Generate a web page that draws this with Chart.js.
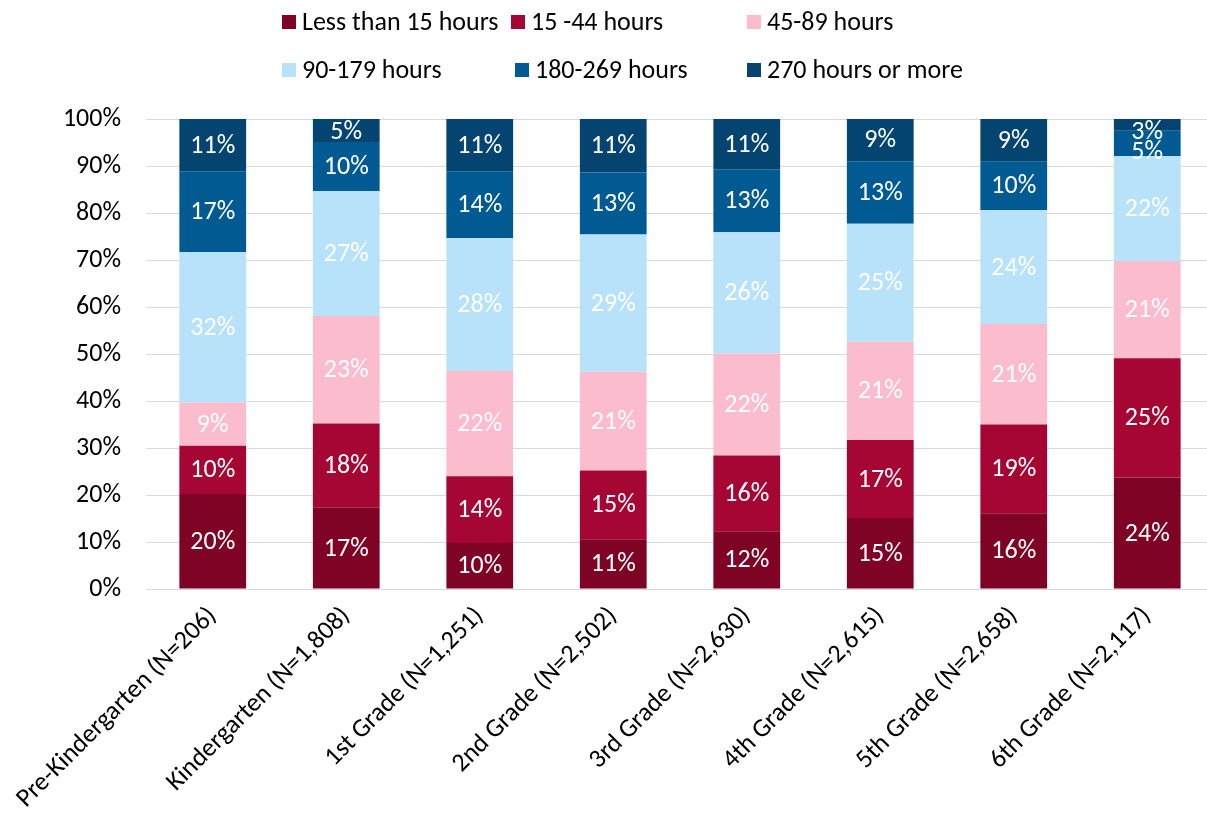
<!DOCTYPE html>
<html>
<head>
<meta charset="utf-8">
<script src="https://cdn.jsdelivr.net/npm/chart.js@4.4.1/dist/chart.umd.min.js"></script>
<style>
  html, body { margin: 0; padding: 0; background: #fff; overflow: hidden; }
  #wrap { width: 1207px; height: 818px; overflow: hidden; }
</style>
</head>
<body>
<div id="wrap"><canvas id="chart" width="1214" height="818"></canvas></div>
<script>
// categories (x axis)
const grades = [
  'Pre-Kindergarten (N=206)',
  'Kindergarten (N=1,808)',
  '1st Grade (N=1,251)',
  '2nd Grade (N=2,502)',
  '3rd Grade (N=2,630)',
  '4th Grade (N=2,615)',
  '5th Grade (N=2,658)',
  '6th Grade (N=2,117)'
];

// series, percent of students
const lessThan15 = [20.2, 17.3,  9.8, 10.6, 12.3, 15.1, 16.1, 23.7];
const hours15_44 = [10.3, 17.9, 14.2, 14.6, 16.1, 16.6, 18.9, 25.4];
const hours45_89 = [ 9.2, 22.9, 22.4, 21.0, 21.7, 20.9, 21.4, 20.7];
const hours90_179 = [32.0, 26.6, 28.3, 29.2, 25.8, 25.1, 24.2, 22.3];
const hours180_269 = [17.2, 10.4, 14.2, 13.2, 13.4, 13.3, 10.3, 5.4];
const hours270plus = [11.1,  4.9, 11.1, 11.4, 10.7,  9.1,  9.1, 2.6];

const seriesNames = ['Less than 15 hours', '15 -44 hours', '45-89 hours',
                     '90-179 hours', '180-269 hours', '270 hours or more'];
const yTicks = [0, 10, 20, 30, 40, 50, 60, 70, 80, 90, 100];

const colors = ['#7f0325', '#a60634', '#fbbccd', '#b8e2fa', '#025a93', '#034470'];
const FONT = 'Carlito, Calibri, Lato, sans-serif';
const FSIZE = 26;

// legend layout (Excel style two rows)
const legendSpots = [[282, 22], [511, 22], [747, 22], [282, 70], [515, 70], [747, 70]];

const legendPlugin = {
  id: 'boxLegend',
  afterDraw(chart) {
    const ctx = chart.ctx;
    ctx.save();
    ctx.font = FSIZE + 'px ' + FONT;
    ctx.textBaseline = 'middle';
    ctx.textAlign = 'left';
    chart.data.datasets.forEach((ds, i) => {
      const [x, y] = legendSpots[i];
      ctx.fillStyle = ds.backgroundColor;
      ctx.fillRect(x, y - 7, 14, 14);
      ctx.fillStyle = '#000';
      ctx.fillText(ds.label, x + 20, y + 1);
    });
    ctx.restore();
  }
};

// white value labels in the middle of each segment
const valueLabels = {
  id: 'valueLabels',
  afterDatasetsDraw(chart) {
    const ctx = chart.ctx;
    const top = chart.chartArea.top;
    ctx.save();
    ctx.font = FSIZE + 'px ' + FONT;
    ctx.fillStyle = '#fff';
    ctx.textAlign = 'center';
    ctx.textBaseline = 'middle';
    const n = chart.data.labels.length;
    for (let j = 0; j < n; j++) {
      let last = -Infinity;
      for (let i = chart.data.datasets.length - 1; i >= 0; i--) {
        const el = chart.getDatasetMeta(i).data[j];
        const { x, y, base } = el.getProps(['x', 'y', 'base'], true);
        let cy = Math.max((y + base) / 2, top + 12, last + 20);
        last = cy;
        const v = chart.data.datasets[i].data[j];
        ctx.fillText(Math.round(v) + '%', x, cy + 1);
      }
    }
    ctx.restore();
  }
};

const seriesData = [lessThan15, hours15_44, hours45_89, hours90_179, hours180_269, hours270plus];

new Chart(document.getElementById('chart'), {
  type: 'bar',
  data: {
    labels: grades,
    datasets: seriesData.map((d, i) => ({
      label: seriesNames[i],
      data: d,
      backgroundColor: colors[i],
      borderWidth: 0,
      barPercentage: 0.5,
      categoryPercentage: 1
    }))
  },
  options: {
    responsive: false,
    animation: false,
    devicePixelRatio: 1,
    layout: { padding: { top: 119, left: 0, right: 0, bottom: 0 } },
    plugins: { legend: { display: false }, tooltip: { enabled: false } },
    scales: {
      x: {
        stacked: true,
        grid: { display: false },
        border: { display: false },
        ticks: {
          autoSkip: false,
          minRotation: 45,
          maxRotation: 45,
          color: '#000',
          font: { family: FONT, size: FSIZE },
          padding: 4
        },
        afterFit: s => { s.height = 229; }
      },
      y: {
        stacked: true,
        min: 0,
        max: 100,
        afterBuildTicks: s => { s.ticks = yTicks.map(v => ({ value: v })); },
        grid: { color: '#d9d9d9', lineWidth: 1, drawTicks: false },
        border: { display: false },
        ticks: {
          color: '#000',
          padding: 25,
          font: { family: FONT, size: FSIZE },
          callback: v => v + '%'
        },
        afterFit: s => { s.width = 146; }
      }
    }
  },
  plugins: [legendPlugin, valueLabels]
});
</script>
</body>
</html>
